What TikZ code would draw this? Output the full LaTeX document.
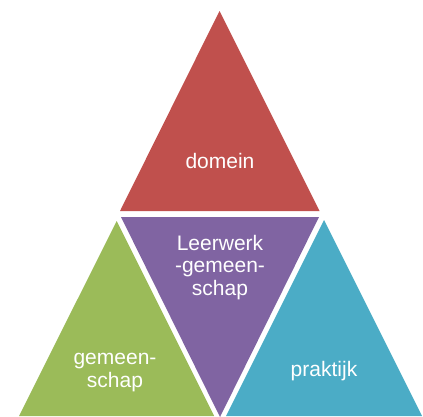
\documentclass[tikz,border=0pt]{standalone}
\usepackage{fontspec}
\setmainfont{Liberation Sans}
\definecolor{cRed}{HTML}{C0504D}
\definecolor{cGreen}{HTML}{9BBB59}
\definecolor{cPurple}{HTML}{8064A2}
\definecolor{cBlue}{HTML}{4BACC6}
\tikzset{
  lbl/.style={text=white, font=\fontsize{21}{22.5}\selectfont, align=center, inner sep=0pt, anchor=base}
}
\begin{document}
\begin{tikzpicture}[x=1pt,y=-1pt]
\useasboundingbox (0,0) rectangle (423,416);
\fill[cRed] (219.5,11) -- (120,211) -- (319.5,211) -- cycle;
\fill[cPurple] (121,217) -- (319,217) -- (220,417) -- cycle;
\fill[cGreen] (116.7,221) -- (19,416) -- (214.2,416) -- cycle;
\fill[cBlue] (324,220) -- (226,416) -- (422,416) -- cycle;
\node[lbl] (dom) at (220,168) {domein};
\node[lbl] (lwg) at (220,295) {Leerwerk\\-gemeen-\\schap};
\node[lbl] (gem) at (115,387) {gemeen-\\schap};
\node[lbl] (pra) at (324,376.5) {praktijk};
\end{tikzpicture}
\end{document}
